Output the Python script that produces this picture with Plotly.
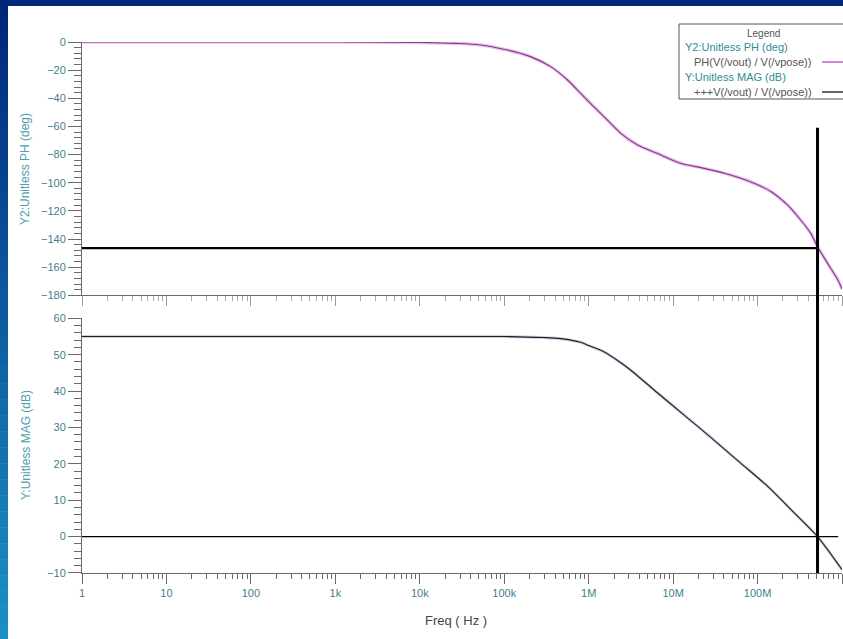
import plotly.graph_objects as go

# ---------------- data ----------------
freq_ticks = [1, 10, 100, 1e3, 1e4, 1e5, 1e6, 1e7, 1e8, 1e9]
freq_labels = ["1", "10", "100", "1k", "10k", "100k", "1M", "10M", "100M", "1G"]

phase_freq = [1, 10, 100, 1e3, 1e4, 2.75e4, 5.25e4, 1.09e5, 2.04e5, 3.55e5, 5.62e5,
              8.04e5, 1.15e6, 1.66e6, 2.40e6, 3.80e6, 6.46e6, 1.23e7, 2.34e7,
              4.79e7, 9.12e7, 1.45e8, 2.26e8, 3.24e8, 4.27e8, 5.13e8, 6.76e8,
              8.91e8, 1e9]
phase_deg = [0, 0, 0, 0, -0.3, -1, -2.1, -5.7, -10.4, -17.5, -27,
             -36.5, -46, -55.4, -64.9, -73.2, -79.1, -86.2, -89.8,
             -94.5, -100.4, -106.4, -115.8, -126.5, -136, -145.5, -157.3,
             -169, -175.5]

mag_freq = [1, 10, 100, 1e3, 1e4, 1e5, 1.19e5, 2.95e5, 4.68e5, 8.04e5, 1.0e6, 1.51e6,
            2.2e6, 3.13e6, 6.46e6, 1.35e7, 2.75e7, 6.31e7, 1.32e8, 2.72e8, 5.13e8, 1e9]
mag_db = [55, 55, 55, 55, 55, 55, 54.95, 54.7, 54.4, 53.4, 52.5, 50.8,
          48.4, 45.8, 39.6, 33.4, 27.4, 20.2, 13.8, 6.5, 0, -9.1]

cursor_freq = 5.13e8       # unity-gain crossover marker
cursor_phase = -146.5      # phase at crossover
cursor_top_phase = -61     # where vertical marker starts
zero_db_end = 9e8          # end of 0 dB reference line

phase_range = [-180, 0]
mag_range = [-10, 60]

# ---------------- layout helpers ----------------
W, H = 843, 639
ML, MR, MT, MB = 82, 1, 42, 66
PW, PH = W - ML - MR, H - MT - MB
top_dom = [0.523, 1.0]
bot_dom = [0.0, 0.4797]


def px(x):
    return (x - ML) / PW


def py(y):
    return (H - MB - y) / PH


TEAL_TITLE = "#4e9eae"
TEAL_TICK = "#3d7f8e"
AXIS = "#6a6a6a"
FONT = "Liberation Sans, Arial, sans-serif"

minor_vals = [m * 10 ** k for k in range(0, 9) for m in range(2, 10)]

fig = go.Figure()

# phase (top panel)
fig.add_trace(go.Scatter(x=phase_freq, y=phase_deg, xaxis="x2", yaxis="y2",
                         mode="lines", line=dict(color="#efc0ef", width=3.5, shape="spline", smoothing=0.8),
                         hoverinfo="skip", showlegend=False))
fig.add_trace(go.Scatter(x=phase_freq, y=phase_deg, xaxis="x2", yaxis="y2",
                         mode="lines", line=dict(color="#7e3a82", width=1.1, shape="spline", smoothing=0.8),
                         name="PH(V(/vout) / V(/vpose))", showlegend=False))
# phase cursor horizontal line
fig.add_trace(go.Scatter(x=[1, cursor_freq], y=[cursor_phase, cursor_phase], xaxis="x2", yaxis="y2",
                         mode="lines", line=dict(color="black", width=2.2), showlegend=False))

# magnitude (bottom panel)
fig.add_trace(go.Scatter(x=mag_freq, y=mag_db, xaxis="x", yaxis="y",
                         mode="lines", line=dict(color="#cdd3da", width=3, shape="spline", smoothing=0.8),
                         hoverinfo="skip", showlegend=False))
fig.add_trace(go.Scatter(x=mag_freq, y=mag_db, xaxis="x", yaxis="y",
                         mode="lines", line=dict(color="#1c1c2c", width=1.1, shape="spline", smoothing=0.8),
                         name="+++V(/vout) / V(/vpose))", showlegend=False))
fig.add_trace(go.Scatter(x=[1, zero_db_end], y=[0, 0], xaxis="x", yaxis="y",
                         mode="lines", line=dict(color="black", width=1.2), showlegend=False))

# vertical cursor spanning both panels
cursor_top_paper = top_dom[0] + (cursor_top_phase - phase_range[0]) / (phase_range[1] - phase_range[0]) * (top_dom[1] - top_dom[0])

shapes = [
    dict(type="line", xref="x", yref="paper", x0=cursor_freq, x1=cursor_freq,
         y0=0, y1=cursor_top_paper, line=dict(color="black", width=3), layer="above"),
]

# blue slide frame: top band + left gradient strip
shapes.append(dict(type="rect", xref="paper", yref="paper", x0=px(0), x1=px(W + 2),
                   y0=py(6), y1=py(-2), fillcolor="#00287a", line=dict(width=0), layer="above"))
n = 40
c0 = (0x00, 0x28, 0x7a)
c1 = (0x1c, 0x90, 0xc4)
for i in range(n):
    t = i / (n - 1)
    col = "rgb(%d,%d,%d)" % tuple(int(c0[k] + (c1[k] - c0[k]) * t) for k in range(3))
    y0 = i * H / n
    y1 = (i + 1) * H / n
    shapes.append(dict(type="rect", xref="paper", yref="paper", x0=px(-1), x1=px(8),
                       y0=py(y1 + 0.5), y1=py(y0), fillcolor=col, line=dict(width=0), layer="above"))

# legend box
shapes.append(dict(type="rect", xref="paper", yref="paper", x0=px(679), x1=px(846),
                   y0=py(99), y1=py(24), fillcolor="white", line=dict(color="#555555", width=1), layer="above"))
shapes.append(dict(type="line", xref="paper", yref="paper", x0=px(822), x1=px(846),
                   y0=py(62), y1=py(62), line=dict(color="#b548b5", width=1.3), layer="above"))
shapes.append(dict(type="line", xref="paper", yref="paper", x0=px(822), x1=px(846),
                   y0=py(92), y1=py(92), line=dict(color="#111111", width=1.3), layer="above"))

annotations = [
    dict(text="Legend", x=px(763), y=py(33), xref="paper", yref="paper", showarrow=False,
         xanchor="center", yanchor="middle", font=dict(family=FONT, size=10, color="#555555")),
    dict(text="Y2:Unitless PH (deg)", x=px(683), y=py(47), xref="paper", yref="paper", showarrow=False,
         xanchor="left", yanchor="middle", font=dict(family=FONT, size=11, color="#2f8c98")),
    dict(text="PH(V(/vout) / V(/vpose))", x=px(692), y=py(62), xref="paper", yref="paper", showarrow=False,
         xanchor="left", yanchor="middle", font=dict(family=FONT, size=11, color="#555555")),
    dict(text="Y:Unitless MAG (dB)", x=px(683), y=py(77), xref="paper", yref="paper", showarrow=False,
         xanchor="left", yanchor="middle", font=dict(family=FONT, size=11, color="#2f8c98")),
    dict(text="+++V(/vout) / V(/vpose))", x=px(692), y=py(92), xref="paper", yref="paper", showarrow=False,
         xanchor="left", yanchor="middle", font=dict(family=FONT, size=11, color="#555555")),
    dict(text="Y2:Unitless PH (deg)", x=px(25), y=py(169), xref="paper", yref="paper", showarrow=False,
         textangle=-90, xanchor="center", yanchor="middle", font=dict(family=FONT, size=12, color=TEAL_TITLE)),
    dict(text="Y:Unitless MAG (dB)", x=px(26), y=py(445), xref="paper", yref="paper", showarrow=False,
         textangle=-90, xanchor="center", yanchor="middle", font=dict(family=FONT, size=12, color=TEAL_TITLE)),
    dict(text="Freq ( Hz )", x=px(456), y=py(620), xref="paper", yref="paper", showarrow=False,
         xanchor="center", yanchor="middle", font=dict(family=FONT, size=13, color="#444444")),
]

xcommon = dict(type="log", range=[0, 9], tickmode="array", tickvals=freq_ticks,
               showgrid=False, zeroline=False, showline=True, linecolor=AXIS, linewidth=1,
               ticks="outside", ticklen=10, tickwidth=1, tickcolor=AXIS,
               minor=dict(tickmode="array", tickvals=minor_vals, ticks="outside", ticklen=5,
                          tickcolor=AXIS, showgrid=False))

fig.update_layout(
    width=W, height=H,
    margin=dict(l=ML, r=MR, t=MT, b=MB),
    paper_bgcolor="white", plot_bgcolor="white",
    font=dict(family=FONT, size=11, color=TEAL_TICK),
    showlegend=False,
    xaxis=dict(**xcommon, anchor="y", ticktext=freq_labels, showticklabels=True,
               tickfont=dict(family=FONT, size=11, color=TEAL_TICK)),
    xaxis2=dict(**{**xcommon, "tickcolor": "#9a9a9a",
                   "minor": dict(tickmode="array", tickvals=minor_vals, ticks="outside", ticklen=5,
                                 tickcolor="#a8a8a8", showgrid=False)},
                anchor="y2", showticklabels=False),
    yaxis=dict(domain=bot_dom, range=mag_range, tickmode="linear", tick0=0, dtick=10,
               showgrid=False, zeroline=False, showline=True, linecolor=AXIS, linewidth=1,
               ticks="outside", ticklen=13, tickcolor=AXIS,
               minor=dict(dtick=2, ticks="outside", ticklen=7, tickcolor=AXIS, showgrid=False),
               tickfont=dict(family=FONT, size=11, color=TEAL_TICK), anchor="x"),
    yaxis2=dict(domain=top_dom, range=phase_range, tickmode="linear", tick0=0, dtick=20,
                showgrid=False, zeroline=False, showline=True, linecolor=AXIS, linewidth=1,
                ticks="outside", ticklen=13, tickcolor=AXIS,
                minor=dict(dtick=4, ticks="outside", ticklen=7, tickcolor=AXIS, showgrid=False),
                tickfont=dict(family=FONT, size=11, color=TEAL_TICK), anchor="x2"),
    shapes=shapes,
    annotations=annotations,
)

fig.write_html("out.html",
               config={"displayModeBar": False},
               post_script="document.body.style.margin='0';document.body.style.padding='0';document.body.style.overflow='hidden';")
